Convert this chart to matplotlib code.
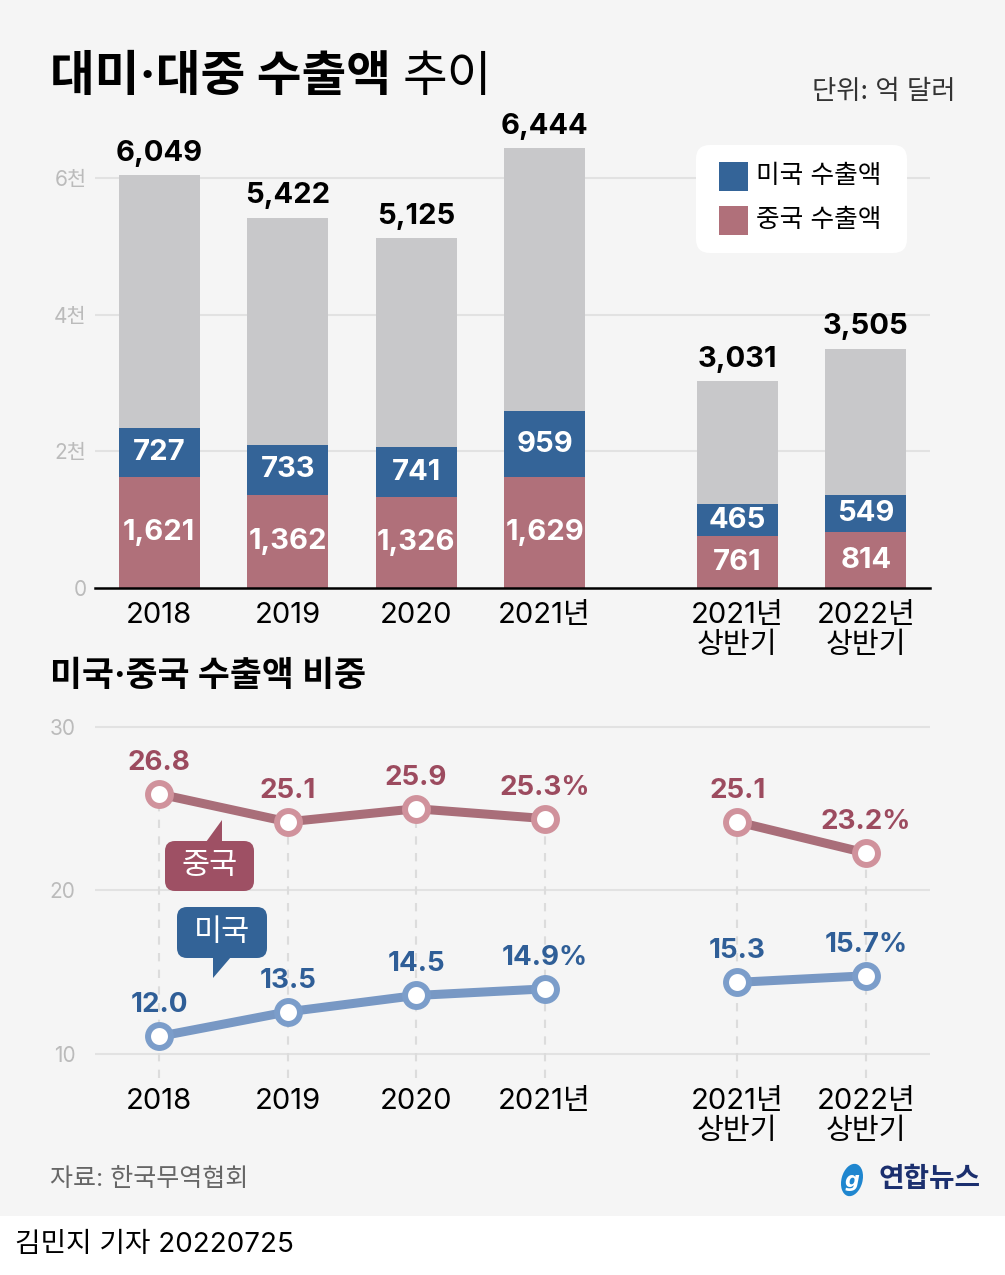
import numpy as np
import matplotlib
matplotlib.use("Agg")
import matplotlib.pyplot as plt
from matplotlib.patches import Rectangle, FancyBboxPatch, Polygon, Ellipse

# Inter + Noto Sans CJK KR ~ Pretendard used in the original
plt.rcParams['font.family'] = ['Inter', 'Noto Sans CJK KR', 'DejaVu Sans']

# data (억 달러, %)
labels = ['2018', '2019', '2020', '2021년', '2021년\n상반기', '2022년\n상반기']
total_exp = [6049, 5422, 5125, 6444, 3031, 3505]
us_exp = [727, 733, 741, 959, 465, 549]
cn_exp = [1621, 1362, 1326, 1629, 761, 814]
cn_share = [26.8, 25.1, 25.9, 25.3, 25.1, 23.2]
us_share = [12.0, 13.5, 14.5, 14.9, 15.3, 15.7]
pct_idx = [3, 5]   # labels that carry a % sign

# colours
BG = '#f5f5f5'
GRAY_BAR = '#c8c8ca'
US_BAR = '#346498'
CN_BAR = '#b0707a'
CN_LINE, CN_MEC, CN_TXT, CN_BUB = '#a96e79', '#d0929c', '#9c4b5f', '#9e5064'
US_LINE, US_MEC, US_TXT, US_BUB = '#7898c4', '#7b9dca', '#2f5e97', '#336397'
GRID = '#e2e2e2'
TICK = '#bbbbbb'

W, H = 1005, 1275
fig = plt.figure(figsize=(W / 100, H / 100), dpi=100)
fig.patch.set_facecolor('white')
fig.add_artist(Rectangle((0, 59 / H), 1, 1 - 59 / H, transform=fig.transFigure,
                         facecolor=BG, edgecolor='none', zorder=-5))

xpos = np.array([0, 1, 2, 3, 4.5, 5.5])

# ---------------- bar chart ----------------
ax1 = fig.add_axes([95 / W, (H - 588) / H, 835 / W, 478 / H])
ax1.set_facecolor('none')
ax1.set_xlim(-0.5, 6.0)
ax1.set_ylim(0, 7000)
cn = np.array(cn_exp)
us = np.array(us_exp)
tot = np.array(total_exp)
bw = 0.63
ax1.bar(xpos, cn, bw, color=CN_BAR, zorder=2)
ax1.bar(xpos, us, bw, bottom=cn, color=US_BAR, zorder=2)
ax1.bar(xpos, tot - cn - us, bw, bottom=cn + us, color=GRAY_BAR, zorder=2)
for y in [2000, 4000, 6000]:
    ax1.axhline(y, color=GRID, lw=1.5, zorder=0)
for i, x in enumerate(xpos):
    ax1.text(x, cn[i] / 2, f'{cn[i]:,}', ha='center', va='center', color='white',
             fontsize=21, fontweight='bold', zorder=3)
    ax1.text(x, cn[i] + us[i] / 2, f'{us[i]:,}', ha='center', va='center', color='white',
             fontsize=21, fontweight='bold', zorder=3)
    ax1.annotate(f'{tot[i]:,}', (x, tot[i]), xytext=(0, 6), textcoords='offset points',
                 ha='center', va='bottom', fontsize=21, fontweight='bold', color='black')
for s in ['top', 'right', 'left']:
    ax1.spines[s].set_visible(False)
ax1.spines['bottom'].set_linewidth(1.8)
ax1.spines['bottom'].set_color('black')
ax1.set_yticks([0, 2000, 4000, 6000])
ax1.set_yticklabels(['0', '2천', '4천', '6천'])
ax1.tick_params(axis='y', length=0, pad=6, labelsize=15, labelcolor=TICK)
ax1.set_xticks(xpos)
ax1.set_xticklabels(labels, linespacing=1.15)
ax1.tick_params(axis='x', length=0, pad=10, labelsize=21)

# ---------------- line chart ----------------
shift = 0.92   # gridlines sit slightly off the round values in the original
ax2 = fig.add_axes([95 / W, (H - 1078) / H, 835 / W, 378 / H])
ax2.set_facecolor('none')
ax2.set_xlim(-0.5, 6.0)
ax2.set_ylim(9.46, 32.54)
for v in [10, 20, 30]:
    ax2.axhline(v + shift, color=GRID, lw=1.5, zorder=0)
ax2.set_yticks([v + shift for v in [10, 20, 30]])
ax2.set_yticklabels(['10', '20', '30'])
ax2.tick_params(axis='y', length=0, pad=14, labelsize=15, labelcolor=TICK)
ax2.set_xticks(xpos)
ax2.set_xticklabels(labels, linespacing=1.15)
ax2.tick_params(axis='x', length=0, pad=7, labelsize=21)
for s in ax2.spines.values():
    s.set_visible(False)
ax2.vlines(xpos, 9.46, cn_share, colors='#dcdcdc', linestyles=(0, (4, 4)), lw=1.5, zorder=1)

for vals, lc, mc, tc in [(cn_share, CN_LINE, CN_MEC, CN_TXT), (us_share, US_LINE, US_MEC, US_TXT)]:
    for seg in [slice(0, 4), slice(4, 6)]:
        ax2.plot(xpos[seg], vals[seg], color=lc, lw=6.5, zorder=3, solid_capstyle='butt')
        ax2.plot(xpos[seg], vals[seg], 'o', ms=16.5, mfc='white', mec=mc, mew=4.3, zorder=4)
    for i, x in enumerate(xpos):
        txt = f'{vals[i]:.1f}' + ('%' if i in pct_idx else '')
        ax2.annotate(txt, (x, vals[i]), xytext=(0, 13), textcoords='offset points',
                     ha='center', va='bottom', fontsize=20, fontweight='bold', color=tc)

# ---------------- overlay: titles, legend, bubbles ----------------
ov = fig.add_axes([0, 0, 1, 1], zorder=5)
ov.set_xlim(0, W)
ov.set_ylim(H, 0)
ov.axis('off')

t1 = ov.text(50, 101, '대미·대중 수출액', fontsize=35, fontweight='bold', va='bottom')
ov.annotate('추이', xy=(1, 0), xycoords=t1, xytext=(8, 0), textcoords='offset points',
            fontsize=35, va='bottom')
ov.text(955, 92, '단위: 억 달러', fontsize=19, ha='right', va='center', color='#333333')

ov.add_patch(FancyBboxPatch((696, 145), 211, 108, boxstyle='round,pad=0,rounding_size=14',
                            facecolor='white', edgecolor='none'))
ov.add_patch(Rectangle((719, 162), 29, 29, facecolor=US_BAR))
ov.add_patch(Rectangle((719, 206), 29, 29, facecolor=CN_BAR))
ov.text(756, 176, '미국 수출액', fontsize=18.5, va='center')
ov.text(756, 220, '중국 수출액', fontsize=18.5, va='center')

ov.text(50, 677, '미국·중국 수출액 비중', fontsize=25, fontweight='bold', va='center')

# speech bubbles
ov.add_patch(FancyBboxPatch((165, 841), 89, 50, boxstyle='round,pad=0,rounding_size=10',
                            facecolor=CN_BUB, edgecolor='none'))
ov.add_patch(Polygon([(206, 842), (222, 842), (222, 820)], facecolor=CN_BUB, edgecolor='none'))
ov.text(209.5, 866, '중국', fontsize=22, color='white', ha='center', va='center')
ov.add_patch(FancyBboxPatch((177, 907), 90, 51, boxstyle='round,pad=0,rounding_size=10',
                            facecolor=US_BUB, edgecolor='none'))
ov.add_patch(Polygon([(213, 957), (231, 957), (213, 978)], facecolor=US_BUB, edgecolor='none'))
ov.text(222, 933, '미국', fontsize=22, color='white', ha='center', va='center')

# footer
ov.text(50, 1180, '자료: 한국무역협회', fontsize=18, va='center', color='#666666')
ov.add_patch(Ellipse((852, 1180), 21, 33, angle=15, facecolor='#1f86cf', edgecolor='none'))
ov.text(852, 1181, 'g', fontsize=15, color='white', ha='center', va='center', style='italic',
        fontweight='bold', family='DejaVu Sans')
ov.text(878, 1180, '연합뉴스', fontsize=20, fontweight='bold', va='center', color='#1b2f6e')
ov.text(15, 1245, '김민지 기자 20220725', fontsize=20, va='center', color='black')

fig.savefig('out.png', dpi=100, facecolor=fig.get_facecolor())
